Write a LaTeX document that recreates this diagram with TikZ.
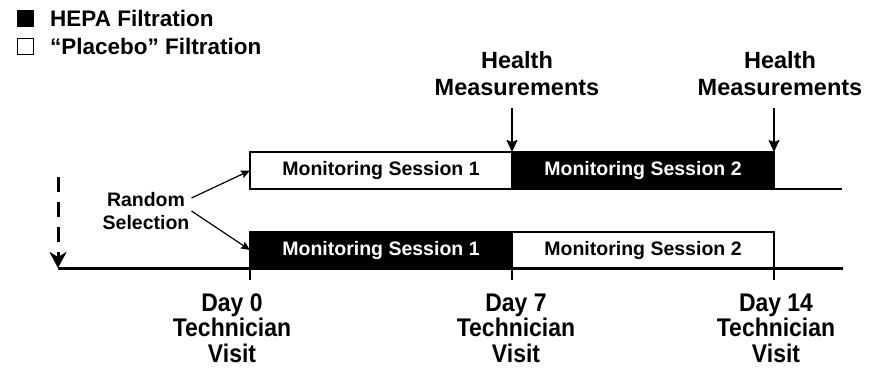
\documentclass[tikz,border=0pt]{standalone}
\usepackage{fontspec}
\setmainfont{Liberation Sans}
\newfontfamily\dayfont{Liberation Sans}[FakeStretch=0.9]
\usetikzlibrary{positioning,arrows.meta}
\tikzset{
  sess/.style={rectangle,draw=black,line width=1.2pt,fill=white,text=black,minimum width=262pt,
    minimum height=37pt,inner sep=0pt,outer sep=0pt,font=\fontsize{19.5}{22}\selectfont\bfseries},
  sessblk/.style={sess,fill=black,text=white},
  key/.style={rectangle,draw=black,line width=1pt,minimum size=16pt,inner sep=0pt},
  keytxt/.style={inner sep=0pt,font=\fontsize{22.5}{26}\selectfont\bfseries},
  lbl/.style={align=center,inner sep=0pt,font=\fontsize{23.5}{27}\selectfont\bfseries},
  sel/.style={align=center,inner sep=0pt,font=\fontsize{19.5}{23.5}\selectfont\bfseries},
  daylbl/.style={align=center,inner sep=0pt,font=\dayfont\fontsize{25.5}{25.5}\selectfont\bfseries},
  tl/.style={line width=3pt},
  tick/.style={line width=1.2pt},
  drop/.style={dash pattern=on 15pt off 10pt,line width=3pt,-{Stealth[length=16pt,width=17pt,inset=5pt]}},
  down/.style={-{Stealth[length=12pt,width=11pt,inset=2pt]},line width=2pt},
  pick/.style={-{Stealth[length=9pt,width=8pt,inset=1.5pt]},line width=1.2pt},
}

\begin{document}
\begin{tikzpicture}[x=1pt,y=-1pt]
  \useasboundingbox (0,0) rectangle (879,380);

  % legend
  \node[key,fill=black] (khepa) at (25.5,18.5) {};
  \node[keytxt,right=16pt of khepa] (thepa) {HEPA Filtration};
  \node[key,fill=white] (kplac) at (25.5,46) {};
  \node[keytxt,right=16pt of kplac] (tplac) {“Placebo” Filtration};

  % the two arms
  \node[sess] (m1a) at (381,170.5) {Monitoring Session 1};
  \node[sessblk,right=0pt of m1a] (m2a) {Monitoring Session 2};
  \node[sessblk,minimum height=36pt] (m1b) at (381,250) {Monitoring Session 1};
  \node[sess,minimum height=36pt,right=0pt of m1b] (m2b) {Monitoring Session 2};

  \node[lbl] (hm1) at (517,74) {Health\\Measurements};
  \node[lbl] (hm2) at (780,74) {Health\\Measurements};
  \coordinate (hmtop1) at (512,108);
  \coordinate (hmtop2) at (774,108);
  \draw[down] (hmtop1) -- (m2a.north west);
  \draw[down] (hmtop2) -- (m2a.north east);

  \node[sel] (rand) at (146,211) {Random\\Selection};
  \draw[pick] ([xshift=2pt,yshift=13pt]rand.east) -- (m1a.west);
  \draw[pick] ([xshift=2pt]rand.east) -- (m1b.west);

  % time axis
  \coordinate (t0) at (58,268);
  \coordinate (tend) at (843,268);
  \coordinate (dtop) at (58,177);
  \coordinate (topend) at (842,189);
  \draw[tl] (t0) -- (tend);
  \draw[line width=2.5pt] (m2a.south east) -- (topend);
  \draw[drop] (dtop) -- (t0);
  \foreach \n in {m1b.south west,m1b.south east,m2b.south east}
    \draw[tick] (\n) -- ++(0,12);

  \node[daylbl] (d0) at (232,328) {Day 0\\Technician\\Visit};
  \node[daylbl] (d7) at (516,328) {Day 7\\Technician\\Visit};
  \node[daylbl] (d14) at (776,328) {Day 14\\Technician\\Visit};
\end{tikzpicture}
\end{document}
